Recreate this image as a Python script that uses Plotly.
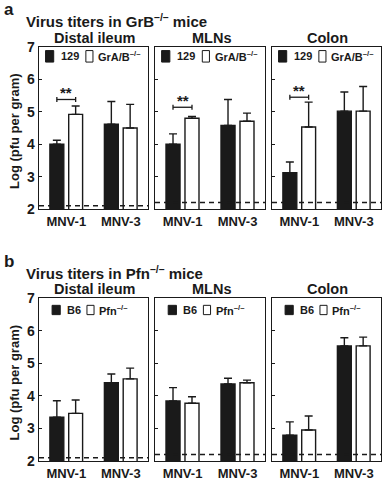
import plotly.graph_objects as go

# ---------------- data ----------------
groups = ["MNV-1", "MNV-3"]
tissues = ["Distal ileum", "MLNs", "Colon"]

a_129 = [[4.00, 4.62], [4.00, 4.58], [3.12, 5.02]]
a_129_err = [[0.12, 0.70], [0.32, 0.80], [0.33, 0.59]]
a_grab = [[4.92, 4.50], [4.80, 4.71], [4.53, 5.02]]
a_grab_err = [[0.26, 0.73], [0.06, 0.25], [0.77, 0.76]]
a_limit = [2.10, 2.20, 2.20]
a_sig_y = [5.38, 5.14, 5.45]

b_b6 = [[3.34, 4.40], [3.84, 4.36], [2.79, 5.53]]
b_b6_err = [[0.51, 0.27], [0.41, 0.18], [0.41, 0.25]]
b_pfn = [[3.46, 4.52], [3.77, 4.40], [2.95, 5.53]]
b_pfn_err = [[0.41, 0.33], [0.20, 0.08], [0.43, 0.27]]
b_limit = [2.10, 2.20, 2.20]

yticks = [2, 3, 4, 5, 6, 7]

# ---------------- layout helpers ----------------
W, H = 383, 483
FONT = "Liberation Sans, Arial, sans-serif"
INK = "#1a1a1a"
x_dom_px = [(39, 148), (155, 265), (272, 381)]
y_dom_px = {"a": (47, 209), "b": (298, 461)}

def xd(p):
    return p / W

def yd(p):
    return 1 - p / H

fig = go.Figure()
layout = dict(width=W, height=H, margin=dict(l=0, r=0, t=0, b=0, autoexpand=False),
              paper_bgcolor="white", plot_bgcolor="white",
              showlegend=False, barmode="overlay",
              font=dict(family=FONT, color=INK))
shapes, annots = [], []

BW = 0.255
OFF1, OFF2 = -0.30, 0.045

panels = [
    ("a", "Virus titers in GrB<sup>\u2013/\u2013</sup> mice", a_129, a_129_err, a_grab, a_grab_err,
     a_limit, "129", "GrA/B<sup>\u2013/\u2013</sup>"),
    ("b", "Virus titers in Pfn<sup>\u2013/\u2013</sup> mice", b_b6, b_b6_err, b_pfn, b_pfn_err,
     b_limit, "B6", "Pfn<sup>\u2013/\u2013</sup>"),
]

k = 0
for pi, (lab, title, v1, e1, v2, e2, lim, n1, n2) in enumerate(panels):
    ytop, ybot = y_dom_px[lab]
    for t in range(3):
        k += 1
        xa = "x" if k == 1 else f"x{k}"
        ya = "y" if k == 1 else f"y{k}"
        xname = "xaxis" if k == 1 else f"xaxis{k}"
        yname = "yaxis" if k == 1 else f"yaxis{k}"
        x0, x1 = x_dom_px[t]
        layout[xname] = dict(domain=[xd(x0), xd(x1)], anchor=ya, range=[-0.5, 1.5],
                             tickvals=[0, 1], ticktext=groups, showline=True, mirror=True,
                             linecolor=INK, linewidth=1.3, ticks="", showgrid=False,
                             zeroline=False, fixedrange=True,
                             tickfont=dict(size=13, weight="bold", family=FONT, color=INK))
        layout[yname] = dict(domain=[yd(ybot), yd(ytop)], anchor=xa, range=[2, 7],
                             tickvals=yticks, showticklabels=(t == 0), showline=True,
                             mirror=True, linecolor=INK, linewidth=1.3, ticks="inside",
                             ticklen=3, tickcolor=INK, showgrid=False, zeroline=False,
                             fixedrange=True,
                             tickfont=dict(size=14, weight="bold", family=FONT, color=INK))
        for vals, errs, off, fill in ((v1[t], e1[t], OFF1, INK), (v2[t], e2[t], OFF2, "white")):
            fig.add_trace(go.Bar(
                x=[0, 1], y=vals, width=BW, offset=off, xaxis=xa, yaxis=ya,
                marker=dict(color=fill, line=dict(color=INK, width=1.4)),
                error_y=dict(type="data", array=errs, arrayminus=[0, 0], symmetric=False,
                             color=INK, thickness=1.4, width=4),
                hoverinfo="skip"))
        # detection limit
        shapes.append(dict(type="line", xref=xa, yref=ya, x0=-0.5, x1=1.5, y0=lim[t], y1=lim[t],
                           line=dict(color=INK, width=1.3, dash="5px,4px")))
        # significance bracket (panel a, MNV-1)
        if lab == "a":
            sy = a_sig_y[t]
            c1, c2 = OFF1 + BW / 2, OFF2 + BW / 2
            shapes.append(dict(type="line", xref=xa, yref=ya, x0=c1, x1=c2, y0=sy, y1=sy,
                               line=dict(color=INK, width=1.3)))
            for cx in (c1, c2):
                shapes.append(dict(type="line", xref=xa, yref=ya, x0=cx, x1=cx, y0=sy - 0.08,
                                   y1=sy + 0.08, line=dict(color=INK, width=1.3)))
            annots.append(dict(xref=xa, yref=ya, x=(c1 + c2) / 2, y=sy, text="**",
                               showarrow=False, yanchor="bottom", yshift=-4,
                               font=dict(size=15, weight="bold", family=FONT, color=INK)))
        # in-plot legend
        xdom = f"{xa} domain"
        ydom = f"{ya} domain"
        if lab == "a":
            ly0, ly1 = 0.907, 0.978
        else:
            ly0, ly1 = 0.898, 0.955
        bx0 = 0.06 if lab == "a" else 0.12
        shapes.append(dict(type="rect", xref=xdom, yref=ydom, x0=bx0, x1=bx0 + 0.075,
                           y0=ly0, y1=ly1, fillcolor=INK, line=dict(color=INK, width=1)))
        annots.append(dict(xref=xdom, yref=ydom, x=bx0 + 0.12, y=(ly0 + ly1) / 2, text=n1,
                           showarrow=False, xanchor="left", yanchor="middle",
                           font=dict(size=11, weight="bold", family=FONT, color=INK)))
        wx0 = 0.43 if lab == "a" else 0.44
        shapes.append(dict(type="rect", xref=xdom, yref=ydom, x0=wx0, x1=wx0 + 0.065,
                           y0=ly0, y1=ly1, fillcolor="white", line=dict(color=INK, width=1)))
        annots.append(dict(xref=xdom, yref=ydom, x=wx0 + 0.095, y=(ly0 + ly1) / 2, text=n2,
                           showarrow=False, xanchor="left", yanchor="middle",
                           font=dict(size=11, weight="bold", family=FONT, color=INK)))
        # subplot title
        annots.append(dict(xref="paper", yref="paper", x=xd((x0 + x1) / 2 + 1), y=yd(ytop - 9),
                           text=tissues[t], showarrow=False, xanchor="center", yanchor="middle",
                           font=dict(size=14.5, weight="bold", family=FONT, color=INK)))
    # panel letter and title
    annots.append(dict(xref="paper", yref="paper", x=xd(2), y=yd(ytop - 37), text=lab,
                       showarrow=False, xanchor="left", yanchor="middle",
                       font=dict(size=17, weight="bold", family=FONT, color=INK)))
    annots.append(dict(xref="paper", yref="paper", x=xd(24), y=yd(ytop - 26), text=title,
                       showarrow=False, xanchor="left", yanchor="middle",
                       font=dict(size=15, weight="bold", family=FONT, color=INK)))
    # y-axis title
    annots.append(dict(xref="paper", yref="paper", x=xd(14), y=yd((ytop + ybot) / 2 + 3),
                       text="Log (pfu per gram)", showarrow=False, textangle=-90,
                       xanchor="center", yanchor="middle",
                       font=dict(size=13, weight="bold", family=FONT, color=INK)))

layout["shapes"] = shapes
layout["annotations"] = annots
fig.update_layout(**layout)
fig.write_html("out.html", config={"displayModeBar": False, "staticPlot": True},
               post_script="document.body.style.margin='0';document.body.style.overflow='hidden';")
